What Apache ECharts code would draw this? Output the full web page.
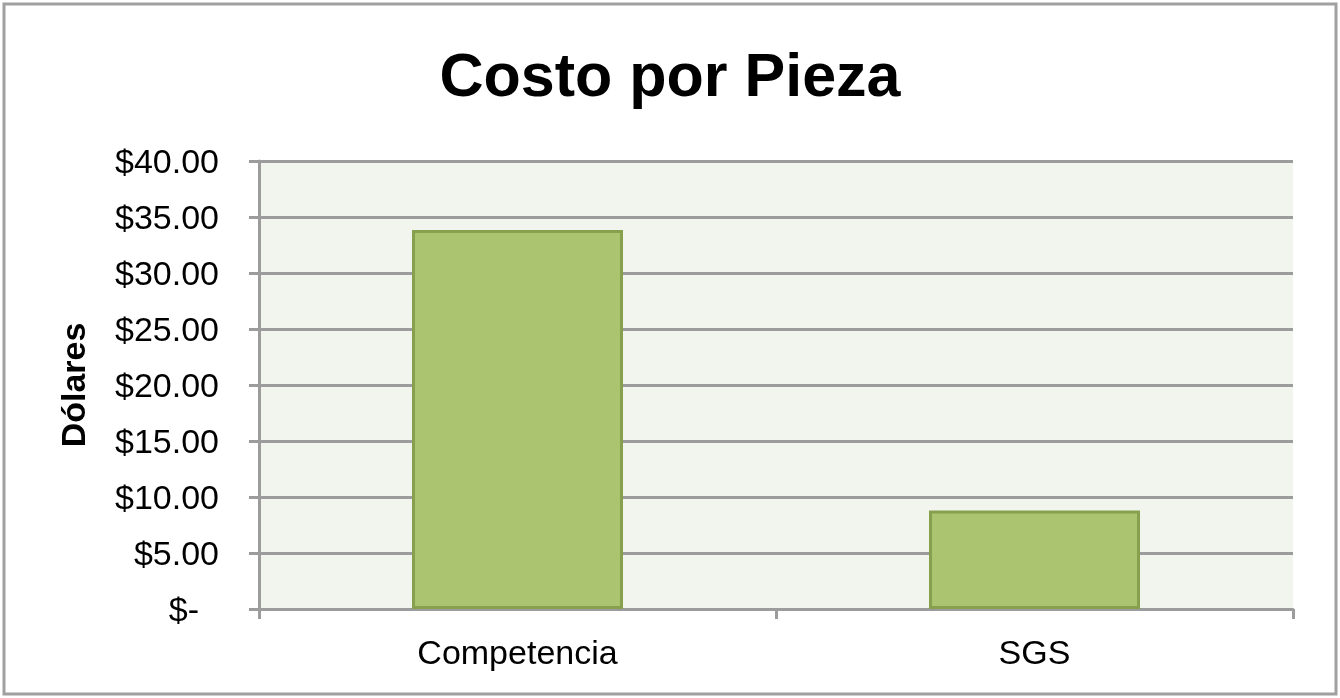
<!DOCTYPE html>
<html>
<head>
<meta charset="utf-8">
<script src="https://cdn.jsdelivr.net/npm/echarts@6/dist/echarts.min.js"></script>
<style>
html,body{margin:0;padding:0;background:#fff;}
#c{width:1340px;height:698px;}
</style>
</head>
<body>
<div id="c"></div>
<script>
const categories = ['Competencia', 'SGS'];
const costValues = [33.85, 8.8];
const yTicks = [0, 5, 10, 15, 20, 25, 30, 35, 40];

const chart = echarts.init(document.getElementById('c'));
chart.setOption({
  animation: false,
  backgroundColor: '#ffffff',
  title: {
    text: 'Costo por Pieza',
    left: 'center',
    top: 44,
    textStyle: { fontFamily: 'Liberation Sans, Arial', fontWeight: 'bold', fontSize: 61, color: '#000' }
  },
  graphic: [{
    type: 'rect',
    shape: { x: 4, y: 4, width: 1332, height: 690 },
    style: { fill: 'none', stroke: '#a0a0a0', lineWidth: 3 },
    silent: true
  }],
  grid: {
    left: 259, right: 47, top: 161, bottom: 89,
    show: true, backgroundColor: '#f2f4ee', borderWidth: 0
  },
  xAxis: {
    type: 'category',
    data: categories,
    axisLine: { lineStyle: { color: '#9c9c9c', width: 3 } },
    axisTick: { show: true, length: 10, lineStyle: { color: '#9c9c9c', width: 3 } },
    axisLabel: { margin: 29, fontFamily: 'Liberation Sans, Arial', fontSize: 34, color: '#000' }
  },
  yAxis: {
    type: 'value',
    min: 0, max: 40, interval: 5,
    name: 'Dólares',
    nameLocation: 'middle',
    nameGap: 166,
    nameRotate: 90,
    nameTextStyle: { fontFamily: 'Liberation Sans, Arial', fontWeight: 'bold', fontSize: 34, color: '#000' },
    axisLine: { show: true, lineStyle: { color: '#9c9c9c', width: 3 } },
    axisTick: { show: true, length: 10, lineStyle: { color: '#9c9c9c', width: 3 } },
    splitLine: { show: true, lineStyle: { color: '#9c9c9c', width: 3 } },
    axisLabel: {
      margin: 40,
      padding: [6, 0, 0, 0],
      fontFamily: 'Liberation Sans, Arial', fontSize: 34, color: '#000',
      formatter: function (v) {
        if (v === 0) return '{z|$-}';
        return '$' + v.toFixed(2);
      },
      rich: { z: { fontFamily: 'Liberation Sans, Arial', fontSize: 34, color: '#000', padding: [0, 20, 0, 0] } }
    }
  },
  series: [{
    type: 'bar',
    data: costValues,
    barWidth: 211,
    itemStyle: { color: '#abc46f', borderColor: '#87a04e', borderWidth: 3 }
  }]
});
</script>
</body>
</html>
